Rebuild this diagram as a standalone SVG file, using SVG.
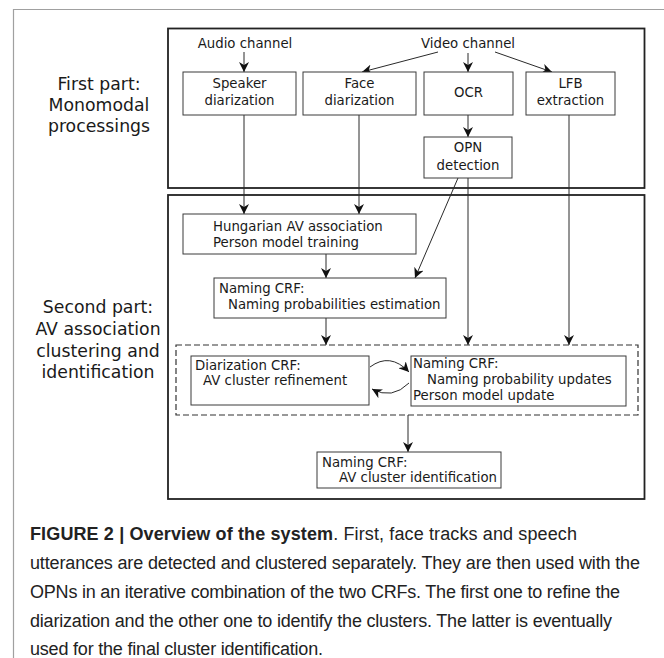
<svg xmlns="http://www.w3.org/2000/svg" width="664" height="658" viewBox="0 0 664 658">
  <style>
    .frame { fill: none; stroke: #a0a0a0; stroke-width: 1.2; }
    .part { fill: none; stroke: #222; stroke-width: 1.8; }
    .box { fill: #fff; stroke: #3a3a3a; stroke-width: 1; }
    .group { fill: none; stroke: #333; stroke-width: 1.2; stroke-dasharray: 6 3; }
    .edge { fill: none; stroke: #2a2a2a; stroke-width: 1; marker-end: url(#arrow); }
    .t { font-family: "DejaVu Sans", sans-serif; font-size: 13.3px; fill: #1a1a1a; }
    .c { text-anchor: middle; }
    .side { font-family: "DejaVu Sans", sans-serif; font-size: 17.3px; fill: #1a1a1a; text-anchor: middle; }
    .cap { font-family: "Liberation Sans", Arial, sans-serif; font-size: 18px; fill: #222; }
    .b { font-weight: bold; }
  </style>
  <defs>
    <marker id="arrow" viewBox="0 0 10 10" refX="10" refY="5" markerWidth="10" markerHeight="10" markerUnits="userSpaceOnUse" orient="auto">
      <path d="M0,0 L10,5 L0,10 L3,5 Z" fill="#111"/>
    </marker>
  </defs>

  <rect width="664" height="658" fill="#fff"/>

  <!-- page frame -->
  <path class="frame" d="M13.5,658 V9.5 H664"/>

  <!-- part frames -->
  <rect class="part" x="168" y="28.5" width="476.5" height="159.5"/>
  <rect class="part" x="168" y="195" width="476.5" height="304"/>

  <!-- side labels -->
  <g id="label-first">
    <text class="side" x="99" y="90">First part:</text>
    <text class="side" x="99" y="111">Monomodal</text>
    <text class="side" x="99" y="132">processings</text>
  </g>
  <g id="label-second">
    <text class="side" x="98" y="313">Second part:</text>
    <text class="side" x="98" y="335">AV association</text>
    <text class="side" x="98" y="356.5">clustering and</text>
    <text class="side" x="98" y="378">identification</text>
  </g>

  <!-- sources -->
  <g id="audio-channel"><text class="t c" x="245" y="48">Audio channel</text></g>
  <g id="video-channel"><text class="t c" x="468" y="48">Video channel</text></g>

  <!-- connectors -->
  <g id="connectors">
    <path class="edge" d="M244,52 V72"/>
    <path class="edge" d="M438,52 L362,72"/>
    <path class="edge" d="M468,53 V72"/>
    <path class="edge" d="M495,52 L552,72"/>
    <path class="edge" d="M468,115 V137"/>
    <path class="edge" d="M244,115 V214"/>
    <path class="edge" d="M359,115 V214"/>
    <path class="edge" d="M458,178 L415,278"/>
    <path class="edge" d="M468,178 V345"/>
    <path class="edge" d="M569,115 V345"/>
    <path class="edge" d="M326,254 V278"/>
    <path class="edge" d="M326,318 V345"/>
    <path class="edge" d="M370,367 Q390,352 409,372"/>
    <path class="edge" d="M409,383 Q392,400 372,389"/>
    <path class="edge" d="M408,415 V452"/>
  </g>

  <!-- first part nodes -->
  <g id="speaker-diarization">
    <rect class="box" x="183" y="72" width="113" height="43"/>
    <text class="t c" x="239.5" y="88">Speaker</text>
    <text class="t c" x="239.5" y="105">diarization</text>
  </g>
  <g id="face-diarization">
    <rect class="box" x="303" y="72" width="113" height="43"/>
    <text class="t c" x="359.5" y="88">Face</text>
    <text class="t c" x="359.5" y="105">diarization</text>
  </g>
  <g id="ocr">
    <rect class="box" x="424" y="72" width="89" height="43"/>
    <text class="t c" x="468.5" y="97">OCR</text>
  </g>
  <g id="lfb-extraction">
    <rect class="box" x="526" y="72" width="89" height="43"/>
    <text class="t c" x="570.5" y="88">LFB</text>
    <text class="t c" x="570.5" y="105">extraction</text>
  </g>
  <g id="opn-detection">
    <rect class="box" x="424" y="137" width="88" height="41"/>
    <text class="t c" x="468" y="152">OPN</text>
    <text class="t c" x="468" y="170">detection</text>
  </g>

  <!-- second part nodes -->
  <g id="hungarian-association">
    <rect class="box" x="183" y="214" width="233" height="40"/>
    <text class="t" x="213" y="231">Hungarian AV association</text>
    <text class="t" x="213" y="247">Person model training</text>
  </g>
  <g id="naming-estimation">
    <rect class="box" x="214" y="278" width="232" height="40"/>
    <text class="t" x="219" y="293">Naming CRF:</text>
    <text class="t" x="228" y="309">Naming probabilities estimation</text>
  </g>
  <g id="iteration">
    <rect class="group" x="176" y="345" width="462" height="70"/>
  </g>
  <g id="diarization-crf">
    <rect class="box" x="191" y="356" width="178" height="49"/>
    <text class="t" x="195" y="370">Diarization CRF:</text>
    <text class="t" x="203" y="385">AV cluster refinement</text>
  </g>
  <g id="naming-update">
    <rect class="box" x="411" y="356" width="215" height="50"/>
    <text class="t" x="413" y="368">Naming CRF:</text>
    <text class="t" x="427" y="384">Naming probability updates</text>
    <text class="t" x="413" y="400">Person model update</text>
  </g>
  <g id="naming-identification">
    <rect class="box" x="317" y="452" width="184" height="36"/>
    <text class="t" x="322" y="467">Naming CRF:</text>
    <text class="t" x="339" y="482">AV cluster identification</text>
  </g>

  <!-- caption -->
  <g id="caption">
    <text class="cap" x="30" y="540" textLength="547"><tspan class="b">FIGURE 2 | Overview of the system</tspan>. First, face tracks and speech</text>
    <text class="cap" x="30" y="569" textLength="610">utterances are detected and clustered separately. They are then used with the</text>
    <text class="cap" x="30" y="598" textLength="590">OPNs in an iterative combination of the two CRFs. The first one to refine the</text>
    <text class="cap" x="30" y="627" textLength="582">diarization and the other one to identify the clusters. The latter is eventually</text>
    <text class="cap" x="30" y="655" textLength="293">used for the final cluster identification.</text>
  </g>
</svg>
